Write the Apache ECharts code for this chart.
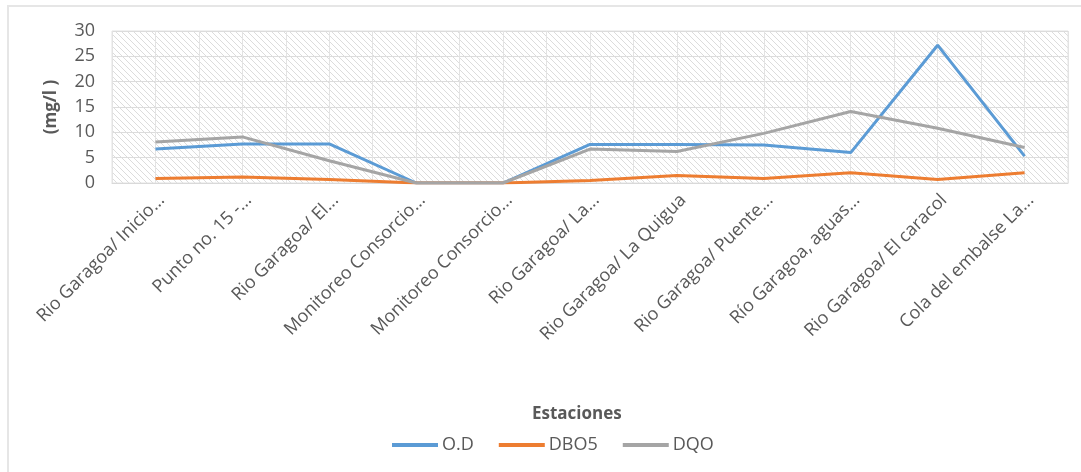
<!DOCTYPE html>
<html>
<head>
<meta charset="utf-8">
<script src="https://cdn.jsdelivr.net/npm/echarts@6/dist/echarts.min.js"></script>
<style>
  html, body { margin: 0; padding: 0; background: #fff; }
  #chart { width: 1081px; height: 472px; }
</style>
</head>
<body>
<div id="chart"></div>
<script>
// Sampling stations along the Garagoa river
const estaciones = [
  'Rio Garagoa/ Inicio...',
  'Punto no. 15 -...',
  'Rio Garagoa/ El...',
  'Monitoreo Consorcio...',
  'Monitoreo Consorcio...',
  'Rio Garagoa/ La...',
  'Rio Garagoa/ La Quigua',
  'Rio Garagoa/ Puente...',
  'Río Garagoa, aguas...',
  'Rio Garagoa/ El caracol',
  'Cola del embalse La...'
];

// Concentrations in mg/l
const od   = [6.7, 7.7, 7.7, 0, 0, 7.6, 7.6, 7.5, 6.0, 27.2, 5.3];
const dbo5 = [0.9, 1.2, 0.7, 0, 0, 0.5, 1.5, 0.9, 2.0, 0.7, 2.0];
const dqo  = [8.1, 9.1, 4.4, 0, 0, 6.7, 6.2, 9.8, 14.1, 10.8, 7.0];

const seriesNames = ['O.D', 'DBO5', 'DQO'];
const seriesColors = ['#5B9BD5', '#ED7D31', '#A5A5A5'];

// Diagonal hatch fill for the plot area
function hatchPattern() {
  const s = 6;
  const c = document.createElement('canvas');
  c.width = s; c.height = s;
  const g = c.getContext('2d');
  g.fillStyle = '#ffffff';
  g.fillRect(0, 0, s, s);
  g.strokeStyle = '#dcdcdc';
  g.lineWidth = 1;
  g.beginPath();
  g.moveTo(-1, -1); g.lineTo(s + 1, s + 1);
  g.moveTo(-1, s - 1); g.lineTo(1, s + 1);
  g.moveTo(s - 1, -1); g.lineTo(s + 1, 1);
  g.stroke();
  return { image: c, repeat: 'repeat' };
}

// Half-step slots so split lines fall both between and on the stations
const halfSlots = [];
for (let i = 0; i < estaciones.length * 2; i++) halfSlots.push(String(i));

const FONT = '"Open Sans", sans-serif';
const TXT = '#595959';

const chart = echarts.init(document.getElementById('chart'), null, { renderer: 'canvas' });

chart.setOption({
  animation: false,
  backgroundColor: '#ffffff',
  textStyle: { fontFamily: FONT },
  grid: {
    left: 112, right: 13, top: 31, bottom: 289,
    show: true,
    backgroundColor: hatchPattern(),
    borderColor: '#e3e3e3',
    borderWidth: 1
  },
  xAxis: [
    {
      type: 'category',
      data: estaciones,
      boundaryGap: true,
      axisLine: { show: true, lineStyle: { color: '#d9d9d9' } },
      axisTick: { show: false },
      splitLine: { show: false },
      axisLabel: {
        interval: 0,
        rotate: 45,
        margin: 8,
        verticalAlign: 'top',
        fontSize: 18,
        color: TXT,
        fontFamily: FONT
      }
    },
    {
      type: 'category',
      data: halfSlots,
      boundaryGap: true,
      position: 'bottom',
      axisLine: { show: false },
      axisTick: { show: false },
      axisLabel: { show: false },
      splitLine: { show: true, interval: 0, lineStyle: { color: '#e3e3e3', width: 1 } }
    }
  ],
  yAxis: {
    type: 'value',
    min: 0, max: 30, interval: 5,
    name: '(mg/l )',
    nameLocation: 'middle',
    nameGap: 52,
    nameRotate: 90,
    nameTextStyle: { fontSize: 17, fontWeight: 'bold', color: TXT, fontFamily: FONT },
    axisLine: { show: false },
    axisTick: { show: false },
    axisLabel: { fontSize: 18, color: TXT, margin: 17, fontFamily: FONT },
    splitLine: { show: true, lineStyle: { color: '#dcdcdc', width: 1 } }
  },
  legend: {
    top: 431,
    left: 387,
    icon: 'rect',
    itemWidth: 46,
    itemHeight: 4,
    itemGap: 25,
    textStyle: { fontSize: 18, color: TXT, fontFamily: FONT, padding: [0, 0, 0, -1] },
    data: seriesNames
  },
  graphic: [
    {
      type: 'text',
      left: 532, top: 406,
      style: { text: 'Estaciones', fontSize: 17, fontWeight: 'bold', fill: TXT, fontFamily: FONT }
    },
    {
      type: 'polyline',
      silent: true,
      shape: { points: [[8, 472], [8, 6], [1081, 6]] },
      style: { stroke: '#e6e6e6', lineWidth: 2, fill: null }
    }
  ],
  series: [od, dbo5, dqo].map((vals, i) => ({
    name: seriesNames[i],
    type: 'line',
    xAxisIndex: 0,
    data: vals,
    symbol: 'none',
    smooth: false,
    lineStyle: { color: seriesColors[i], width: 3 },
    itemStyle: { color: seriesColors[i] }
  }))
});
</script>
</body>
</html>
